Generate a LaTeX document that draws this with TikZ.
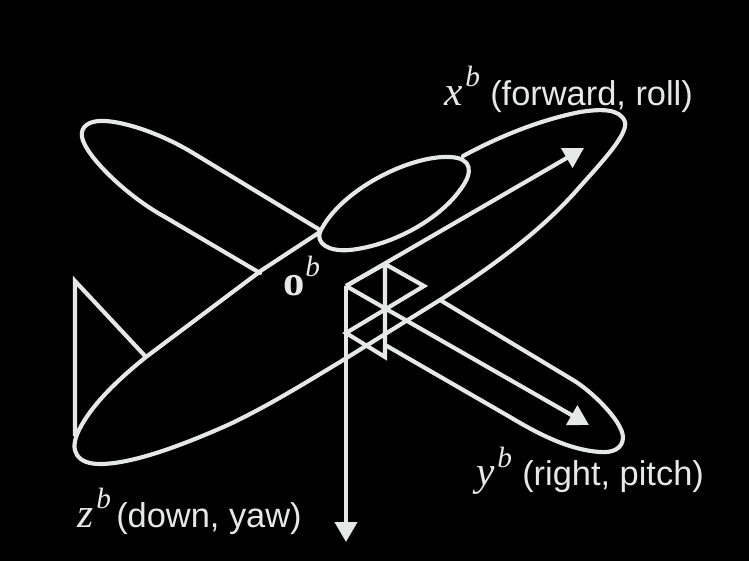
\documentclass[tikz,border=0pt]{standalone}
\usepackage{fontspec}
\setmainfont{Liberation Serif}
\setsansfont{Liberation Sans}
\usetikzlibrary{arrows.meta}
\definecolor{ink}{HTML}{E6E8E8}
\tikzset{
  px/.style={x=0.75pt,y=-0.75pt},
  body/.style={draw=ink,line width=3.1pt,line join=round,line cap=round},
  thin/.style={draw=ink,line width=3.1pt,line join=miter},
  axis/.style={draw=ink,line width=3.1pt,-{Triangle[length=15pt,width=16.5pt]}},
  lab/.style={text=ink,inner sep=0pt,anchor=base west,font=\sffamily\fontsize{25.8}{28}\selectfont},
  sym/.style={text=ink,inner sep=0pt,anchor=base west,font=\rmfamily\itshape\fontsize{31}{33}\selectfont},
  sup/.style={text=ink,inner sep=0pt,anchor=base west,font=\rmfamily\itshape\fontsize{22}{24}\selectfont}
}
\begin{document}
\begin{tikzpicture}[px]
\fill[black] (0,0) rectangle (749,561);
\useasboundingbox (0,0) rectangle (749,561);
\coordinate (O) at (346,286);
\coordinate (Xtip) at (584,148);
\coordinate (Ytip) at (589,425);
\coordinate (Ztip) at (346,542);
\coordinate (B1) at (385,264);
\coordinate (B2) at (424,286);
\coordinate (B3) at (346,333);
\coordinate (B4) at (385,357);
\coordinate (T1) at (75,281);
\coordinate (T2) at (146,357);
\coordinate (T3) at (75,436);
% fuselage
\draw[body] (320,232) -- (262,270) -- (146,357)
  .. controls (115,382) and (91,406) .. (79,430)
  .. controls (68,452) and (78,464) .. (100,464)
  .. controls (135,464) and (190,442) .. (230,424)
  .. controls (270,405) and (310,380) .. (340,362)
  -- (440,300)
  .. controls (490,268) and (540,232) .. (577,190)
  .. controls (600,164) and (628,135) .. (625,122)
  .. controls (620,108) and (600,109) .. (580,112)
  .. controls (540,120) and (500,136) .. (463,156);
% canopy
\draw[body] (320,232) .. controls (340,190) and (410,155) .. (450,157)
  .. controls (472,158) and (474,172) .. (460,190)
  .. controls (440,218) and (395,245) .. (350,250)
  .. controls (328,252) and (316,243) .. (320,232);
% left wing
\draw[body] (320,230) -- (193,153)
  .. controls (160,133) and (125,122) .. (105,121)
  .. controls (90,120) and (80,126) .. (82,137)
  .. controls (85,155) and (125,195) .. (165,217)
  -- (260,273);
% right wing
\draw[body] (440,300) -- (573,380)
  .. controls (590,390) and (622,420) .. (623,437)
  .. controls (623,449) and (612,453) .. (600,452)
  .. controls (570,450) and (540,435) .. (510,417)
  -- (387,346);
% tail
\draw[thin] (T3) -- (T1) -- (T2);
% frame box
\draw[thin] (O) -- (B1) -- (B2) -- (B3) -- (B4) -- (B1);
% axes
\draw[axis] (O) -- (Xtip);
\draw[axis] (O) -- (Ytip);
\draw[axis] (O) -- (Ztip);
% labels
\node[sym] (xs) at (444,105) {x};
\node[sup] (xb) at (465,86) {b};
\node[lab] (xl) at (490,105) {(forward, roll)};
\node[sym] (ys) at (476,485) {y};
\node[sup] (yb) at (497,467) {b};
\node[lab] (yl) at (522,485) {(right, pitch)};
\node[sym] (zs) at (77,527) {z};
\node[sup] (zb) at (96,508) {b};
\node[lab] (zl) at (116,527) {(down, yaw)};
\node[text=ink,inner sep=0pt,anchor=base west,font=\rmfamily\bfseries\fontsize{32}{34}\selectfont] (os) at (283,295) {o};
\node[sup] (ob) at (305,276) {b};
\end{tikzpicture}
\end{document}
